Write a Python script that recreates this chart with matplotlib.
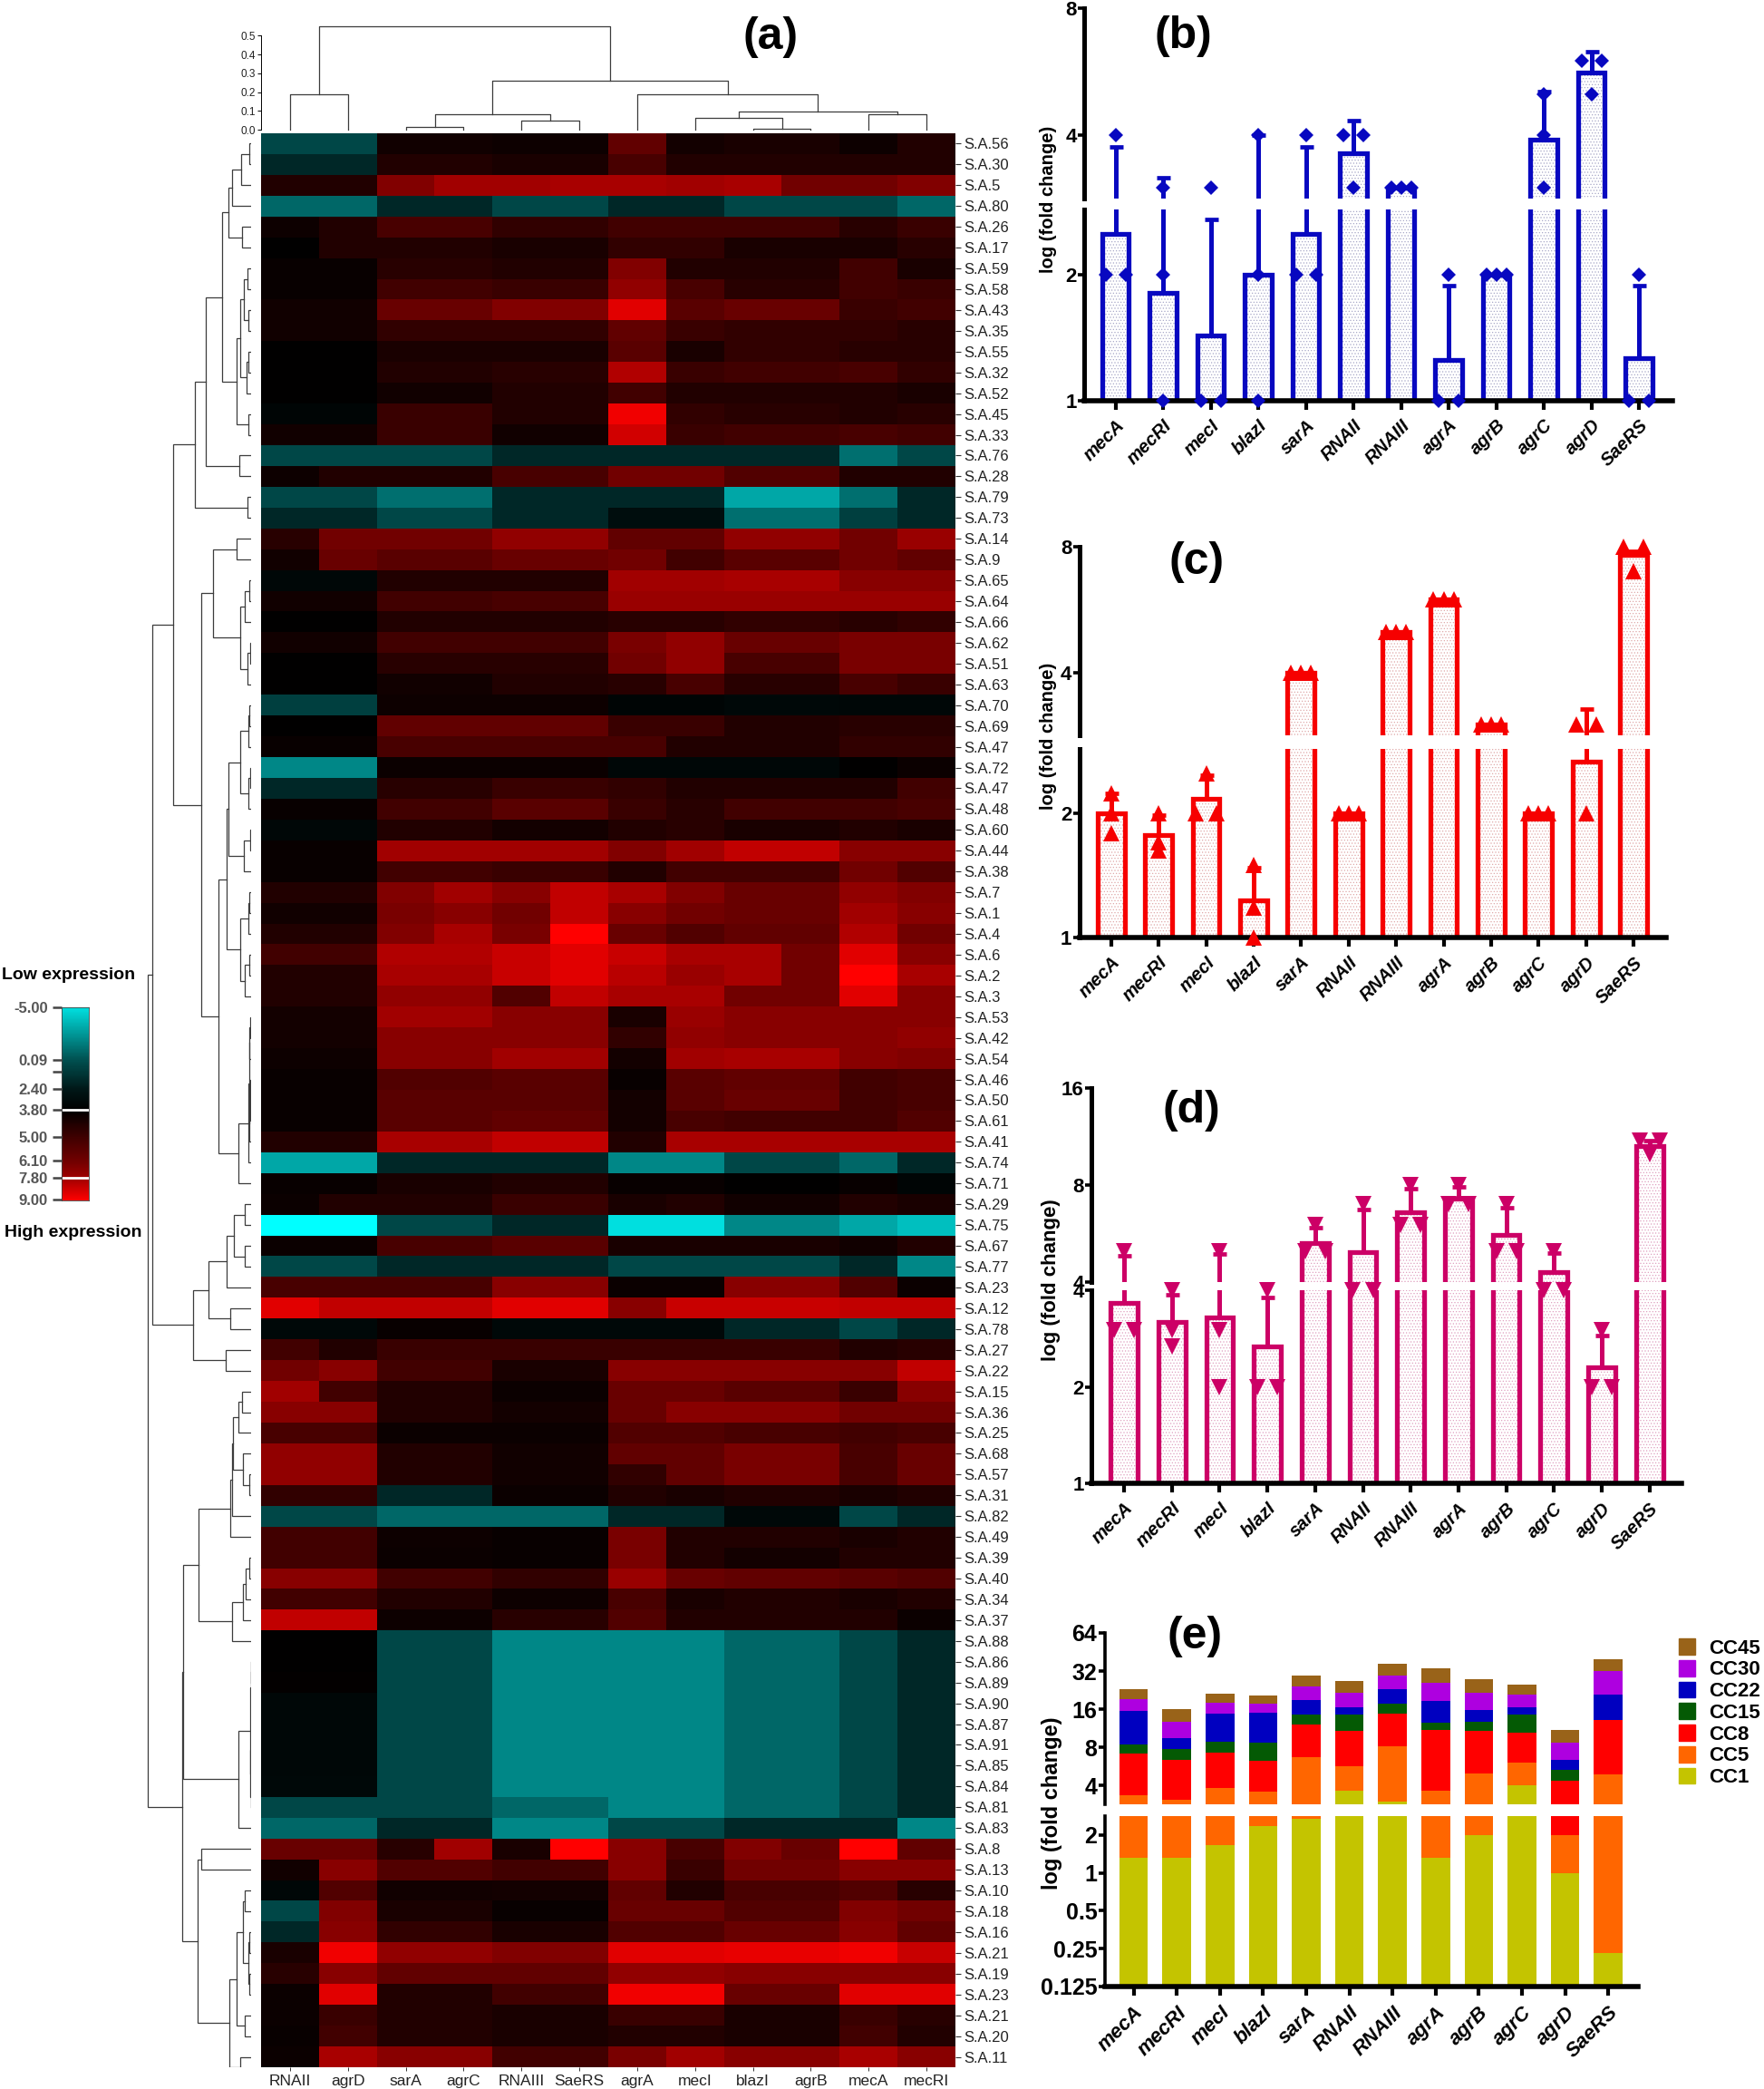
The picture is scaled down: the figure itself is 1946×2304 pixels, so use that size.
import numpy as np
import matplotlib
matplotlib.use('Agg')
import matplotlib.pyplot as plt
from matplotlib.colors import LinearSegmentedColormap
from matplotlib.patches import Patch
from matplotlib import font_manager

W, H = 1946, 2304
names = {f.name for f in font_manager.fontManager.ttflist}
NARROW = 'Liberation Sans Narrow' if 'Liberation Sans Narrow' in names else 'Liberation Sans'
plt.rcParams['font.family'] = 'Liberation Sans'
plt.rcParams['hatch.linewidth'] = 0.5

# heatmap, level -16 (cyan) .. 0 (black) .. 16 (red)
heat_cols = ['RNAII', 'agrD', 'sarA', 'agrC', 'RNAIII', 'SaeRS', 'agrA', 'mecI', 'blazI', 'agrB', 'mecA', 'mecRI']
heat_rows = ['56', '30', '5', '80', '26', '17', '59', '58', '43', '35', '55', '32', '52', '45', '33', '76', '28', '79', '73',
             '14', '9', '65', '64', '66', '62', '51', '63', '70', '69', '47', '72', '47', '48', '60', '44', '38', '7', '1',
             '4', '6', '2', '3', '53', '42', '54', '46', '50', '61', '41', '74', '71', '29', '75', '67', '77', '23', '12',
             '78', '27', '22', '15', '36', '25', '68', '57', '31', '82', '49', '39', '40', '34', '37', '88', '86', '89',
             '90', '87', '91', '85', '84', '81', '83', '8', '13', '10', '18', '16', '21', '19', '23', '21', '20', '11']
heat_vals = [
    [-4.5, -4.5, 1, 1, .8, .8, 6, 1.2, 1.5, 1.5, .8, 2],
    [-2.5, -2.5, 2, 2, 1.5, 1.5, 4.5, 2, 2, 2, 2, 2],
    [2, 2, 8, 10, 10, 10.5, 10.5, 10, 10.5, 7, 7, 8],
    [-6.5, -6.5, -2.5, -2.5, -4.5, -4.5, -2.5, -2.5, -4.5, -4.5, -4.5, -6.5],
    [.8, 2, 4.5, 4.5, 3, 3, 4, 4, 4, 4, 2.5, 3.5],
    [0, 2, 2, 2, 1.5, 1.5, 3, 3, 1.5, 1.5, 1.5, 2.5],
    [.5, .5, 2.5, 2.5, 2, 2, 8, 2, 2, 2, 4, 1.5],
    [.5, .5, 4, 4, 3.5, 3.5, 9, 4.5, 2.5, 2.5, 4, 3.5],
    [1, 1, 6.5, 6.5, 8, 8, 14, 5.5, 6.5, 6.5, 3.5, 4],
    [1, 1, 3, 3, 3, 3, 6, 3.5, 3, 3, 3, 2.5],
    [0, 0, 1.5, 1.5, 1.5, 1.5, 5.5, 1.5, 3, 3, 2.5, 2.5],
    [0, 0, 2, 2, 2.5, 2.5, 11, 3.5, 4, 4, 4.5, 3],
    [0, 0, 1, 1, 2, 2, 4, 2, 2, 2, 2, 1.5],
    [-.3, -.3, 3.5, 3.5, 2, 2, 15, 3, 2.5, 2.5, 2, 2.5],
    [1, 1, 3.5, 3.5, 1, 1, 13, 3.5, 4, 4, 4.5, 4],
    [-4.5, -4.5, -4.5, -4.5, -2.5, -2.5, -2.5, -2.5, -2.5, -2.5, -7, -4.5],
    [.8, 2, 2, 2, 4.5, 4.5, 7, 7, 5, 5, 2, 2],
    [-4.5, -4.5, -7, -7, -2.5, -2.5, -2.5, -2.5, -10.5, -10.5, -7, -2.5],
    [-2.5, -2.5, -4.5, -4.5, -2.5, -2.5, -.8, -.8, -7, -7, -4, -2.5],
    [2.5, 7, 7, 7, 9, 9, 6, 6, 9, 9, 7, 9.5],
    [1, 6.5, 5.5, 5.5, 6.5, 6.5, 7, 4, 5.5, 5.5, 7, 6],
    [-.5, -.5, 2, 2, 2, 2, 10, 10, 10.5, 10.5, 8.5, 8.5],
    [1, 1, 4, 4, 4.5, 4.5, 9.5, 9.5, 9.5, 9.5, 9.5, 9.5],
    [0, 0, 2, 2, 2, 2, 2.5, 2.5, 3, 3, 2.5, 3],
    [1, 1, 4, 4, 4, 4, 7.5, 9, 6.5, 6.5, 7.5, 7.5],
    [0, 0, 2.5, 2.5, 2.5, 2.5, 7, 9, 4.5, 4.5, 7.5, 7.5],
    [0, 0, 1, 1, 2, 2, 2.5, 4.5, 2.5, 2.5, 4.5, 3.5],
    [-4, -4, .8, .8, .8, .8, -.3, -.3, -.6, -.6, -.5, -.5],
    [0, 0, 6, 6, 6, 6, 3.5, 3.5, 2, 2, 2.5, 2.5],
    [.5, .5, 4.5, 4.5, 4.5, 4.5, 4.5, 2, 2, 2, 3, 3],
    [-8.5, -8.5, .7, .7, .7, .7, -.5, -.5, -.5, -.5, 0, .7],
    [-2.5, -2.5, 2.5, 2.5, 3.5, 3.5, 3, 2, 2, 2, 2, 4],
    [.6, .6, 4, 4, 5.5, 5.5, 3.5, 2.5, 4, 4, 4, 4.5],
    [-.5, -.5, 2, 2, 1.2, 1.2, 2, 2.5, 1.5, 1.5, 2, 1.5],
    [.6, .6, 10, 10, 10, 10, 8, 10, 12, 12, 8.5, 8.5],
    [.6, .6, 4, 4, 3.5, 3.5, 2, 4, 4, 4, 7, 5],
    [2, 2, 8, 10, 8.5, 12, 10.5, 8, 6.5, 6.5, 9, 8],
    [1, 1, 7.5, 8.5, 7, 12, 8.5, 7, 6.5, 6.5, 10, 8.5],
    [2, 2, 8, 10.5, 7.5, 16, 6.5, 5, 6, 6, 11, 7],
    [4, 4, 11, 11, 12.5, 14, 12.5, 10.5, 10.5, 7, 14, 8.5],
    [2, 2, 10.5, 10.5, 12.5, 14, 11.5, 9.5, 10.5, 7, 16, 10.5],
    [2, 2, 9, 9, 5, 12, 10.5, 10.5, 7, 7, 14, 8.5],
    [1.2, 1.2, 10, 10, 8.5, 8.5, 1.5, 9.5, 8.5, 8.5, 8.5, 8.5],
    [1.2, 1.2, 8.5, 8.5, 8.5, 8.5, 3, 9, 8.5, 8.5, 8.5, 9],
    [.8, .8, 8.5, 8.5, 10, 10, 1.2, 10, 10.5, 10.5, 8.5, 8],
    [.6, .6, 5, 5, 5.5, 5.5, .5, 5.5, 6, 6, 4, 4.5],
    [.6, .6, 5.5, 5.5, 5.5, 5.5, 1.2, 5.5, 6.5, 6.5, 4, 4.5],
    [.6, .6, 5.5, 5.5, 6, 6, 1.2, 4.5, 4, 4, 4, 5],
    [2, 2, 10.5, 10.5, 12, 12, 2, 10.5, 10.5, 10.5, 10.5, 10.5],
    [-10.5, -10.5, -2.5, -2.5, -2.5, -2.5, -8.5, -8.5, -4.5, -4.5, -6.5, -2.5],
    [.5, .5, 1.5, 1.5, 2, 2, .5, .5, .1, .1, .5, -.3],
    [.7, 2, 2, 2, 3.5, 3.5, 1.5, 2, 1, 1, 2, 1.5],
    [-16, -16, -4.5, -4.5, -2.5, -2.5, -14, -14, -8.5, -8.5, -10.5, -12],
    [.7, .7, 4.5, 4.5, 5.5, 5.5, 1.5, 1.5, 1.5, 1.5, 1, 2],
    [-4.5, -4.5, -2.5, -2.5, -2.5, -2.5, -4.5, -4.5, -4.5, -4.5, -2.5, -8.5],
    [4.5, 4.5, 4.5, 4.5, 8.5, 8.5, .7, .7, 8.5, 8.5, 5, .7],
    [14, 12, 12, 12, 14, 14, 8.5, 12.5, 12.5, 12.5, 12, 12],
    [-.6, -.6, .5, .5, -.6, -.6, -.6, -.6, -2.5, -2.5, -4.5, -2.5],
    [4, 2, 3.5, 3.5, 3.5, 3.5, 3.5, 3.5, 3.5, 3.5, 2, 2.5],
    [7, 8.5, 4, 4, 1.5, 1.5, 8.5, 8.5, 8.5, 8.5, 8.5, 12],
    [10, 4, 2, 2, .7, .7, 6.5, 6.5, 5.5, 5.5, 3.5, 8.5],
    [8.5, 8.5, 2, 2, 1.2, 1.2, 6.5, 8.5, 8.5, 8.5, 7, 7],
    [4.5, 4.5, .7, .7, .7, .7, 5, 5, 4.5, 4.5, 4, 4.5],
    [9, 9, 2, 2, 1, 1, 6, 6, 7.5, 7.5, 4.5, 6.5],
    [9, 9, 2, 2, 1, 1, 3, 6, 7.5, 7.5, 4.5, 6.5],
    [3, 3, -2.5, -2.5, .7, .7, 2, 1.5, 2, 2, 1.5, 2],
    [-4.5, -4.5, -6.5, -6.5, -6.5, -6.5, -2.5, -2.5, -.6, -.6, -4.5, -2.5],
    [4, 4, .8, .8, .5, .5, 7.5, 2, 2, 2, 1.5, 2],
    [4, 4, .7, .7, .6, .6, 7.5, 2, 1.2, 1.2, 2, 2],
    [8.5, 8.5, 4, 4, 3, 3, 9.5, 6.5, 6, 6, 5.5, 5],
    [4, 4, 2, 2, .8, .8, 4.5, 1.5, 2, 2, 1.5, 2],
    [12, 12, .8, .8, 2.5, 2.5, 5, 2, 2, 2, 2, .7],
    [0, 0, -4.5, -4.5, -8.5, -8.5, -8.5, -8.5, -6.5, -6.5, -4.5, -2.5],
    [0, 0, -4.5, -4.5, -8.5, -8.5, -8.5, -8.5, -6.5, -6.5, -4.5, -2.5],
    [.2, .2, -4.5, -4.5, -8.5, -8.5, -8.5, -8.5, -6.5, -6.5, -4.5, -2.5],
    [-.5, -.5, -4.5, -4.5, -8.5, -8.5, -8.5, -8.5, -6.5, -6.5, -4.5, -2.5],
    [-.5, -.5, -4.5, -4.5, -8.5, -8.5, -8.5, -8.5, -6.5, -6.5, -4.5, -2.5],
    [-.4, -.4, -4.5, -4.5, -8.5, -8.5, -8.5, -8.5, -6.5, -6.5, -4.5, -2.5],
    [-.4, -.4, -4.5, -4.5, -8.5, -8.5, -8.5, -8.5, -6.5, -6.5, -4.5, -2.5],
    [-.6, -.6, -4.5, -4.5, -8.5, -8.5, -8.5, -8.5, -6.5, -6.5, -4.5, -2.5],
    [-4.5, -4.5, -4.5, -4.5, -6.5, -6.5, -8.5, -8.5, -6.5, -6.5, -4.5, -2.5],
    [-6.5, -6.5, -2.5, -2.5, -8.5, -8.5, -4.5, -4.5, -2.5, -2.5, -2.5, -8.5],
    [6.5, 6.5, 2.5, 10, 1.5, 16, 8.5, 4.5, 8, 6.5, 16, 6],
    [1, 8.5, 5, 5, 4, 4, 8.5, 3.5, 7, 7, 8.5, 8.5],
    [-.5, 5, 1, 1, 1.2, 1.2, 6, 2, 4.5, 4.5, 5, 2.5],
    [-4.5, 8, 1.5, 1.5, .6, .6, 6.5, 6.5, 5, 5, 8, 7],
    [-2.5, 8.5, 3, 3, 1.5, 1.5, 5, 5, 6.5, 6.5, 8.5, 6],
    [1.5, 15, 9, 9, 8, 8, 14, 14, 14.5, 14.5, 15, 12.5],
    [2.5, 8.5, 6, 6, 6, 6, 9, 9, 8.5, 8.5, 8.5, 8.5],
    [.7, 14, 2, 2, 4, 4, 15, 15, 6.5, 6.5, 14, 14],
    [.7, 3.5, 2, 2, 1.5, 1.5, 3.5, 3.5, 1.5, 1.5, 3.5, 2.5],
    [.6, 4, 2, 2, 1.5, 1.5, 2, 2, 1.5, 1.5, 4, 2],
    [.7, 10.5, 8.5, 8.5, 4, 4, 7.5, 10, 8.5, 8.5, 10.5, 8.5],
]

# dendrograms as [height, child, child], 0 is a leaf
L = 0
row_tree = [114,
    [109,
        [86,
            [62,
                [50,
                    [32,
                        [25, [21, [11, [2, L, L], L], L], [10, L, L]],
                        [16, [12, [8, [4, L, L], [3, L, L]], [5, [3, L, L], L]], [3, L, L]]],
                    [13, L, L]],
                [4, L, L]],
            [55,
                [42, [16, L, L], [12, [7, [2, L, L], L], [4, [1, L, L], L]]],
                [36,
                    [27,
                        [25, [12, [3, [2, L, L], L], [3, [1, L, L], L]], [8, [1, L, L], L]],
                        [12, [3, [2, L, L], L], [7, [2, L, L], L]]],
                    [14, [3, [2, [2, [1, L, L], L], [2, [1, [1, L, L], L], L]], L], L]]]],
        [64, [47, [27, [19, [7, L, L], [7, L, L]], L], [23, L, L]], [28, L, L]]],
    [76,
        [75,
            [58,
                [23, [21, [20, [14, [10, L, L], L], [9, L, [2, L, L]]], L], L],
                [21, [9, [6, [2, L, L], L], L], L]],
            [14, [1, [.5, [.3, L, L], L], [.7, [.5, [.3, L, L], L], [.3, L, L]]], L]],
        [59,
            [55, L, L],
            [24, [16, [9, [7, L, L], [3, [2, L, L], [2, L, L]]], [7, L, L]], [12, L, L]]]]]
col_tree = [.55,
    [.19, L, L],
    [.26,
        [.083, [.015, L, L], [.05, L, L]],
        [.187, L, [.098, [.065, L, [.007, L, L]], [.08, L, L]]]]]

# colour key
cbar_labels = ['-5.00', '0.09', '', '2.40', '3.80', '5.00', '6.10', '7.80', '9.00']
cbar_levels = [-14, -5, -3.6, -1.5, 0, 4, 7, 10, 16]

genes = ['mecA', 'mecRI', 'mecI', 'blazI', 'sarA', 'RNAII', 'RNAIII', 'agrA', 'agrB', 'agrC', 'agrD', 'SaeRS']

# panel b
b_tops = [2.51, 1.81, 1.43, 2.0, 2.51, 3.63, 3.0, 1.25, 2.0, 3.9, 5.63, 1.26]
b_caps = [3.76, 3.17, 2.72, 4.0, 3.76, 4.33, None, 1.88, None, 5.08, 6.32, 1.88]
b_pts = [[4, 2, 2], [3, 2, 1], [3, 1, 1], [4, 2, 1], [4, 2, 2], [4, 4, 3], [3, 3, 3], [2, 1, 1], [2, 2, 2], [5, 4, 3], [6, 6, 5], [2, 1, 1]]

# panel c
c_tops = [2.0, 1.77, 2.17, 1.23, 4.0, 2.0, 5.0, 6.0, 3.0, 2.0, 2.68, 7.64]
c_caps = [2.24, 1.98, 2.48, 1.48, None, None, None, None, None, None, 3.27, 7.8]
c_pts = [[2.24, 2, 1.79], [2, 1.7, 1.63], [2.5, 2, 2], [1.5, 1.18, 1], [4, 4, 4], [2, 2, 2], [5, 5, 5], [6, 6, 6], [3, 3, 3], [2, 2, 2], [3, 3, 2], [8, 8, 7]]

# panel d
d_tops = [3.65, 3.19, 3.29, 2.67, 5.3, 4.96, 6.6, 7.27, 5.6, 4.3, 2.3, 10.56]
d_caps = [4.84, 3.88, 4.88, 3.79, 5.9, 6.72, 7.82, 7.9, 6.82, 4.93, 2.89, 11.0]
d_pts = [[5, 3, 3], [4, 3, 2.68], [5, 3, 2], [4, 2, 2], [6, 5, 5], [7, 4, 4], [8, 6, 6], [8, 7, 7], [7, 5, 5], [5, 4, 4], [3, 2, 2], [11, 11, 10]]

# panel e, upper edge of each stacked segment
cc1 = [1.33, 1.33, 1.66, 2.34, 2.71, 3.65, 2.99, 1.33, 2.0, 4.0, 1.0, 0.23]
cc5 = [3.32, 3.07, 3.82, 3.56, 6.66, 5.67, 8.09, 3.65, 5.0, 6.01, 2.0, 4.89]
cc8 = [7.09, 6.33, 7.21, 6.25, 12.08, 10.71, 14.77, 10.96, 10.71, 10.41, 4.33, 13.09]
cc15 = [8.43, 7.73, 8.87, 8.62, 14.43, 14.43, 17.63, 12.44, 12.72, 14.43, 5.33, 13.09]
cc22 = [15.38, 9.45, 14.68, 15.02, 18.78, 16.46, 22.95, 18.57, 15.73, 16.46, 6.33, 20.94]
cc30 = [19.11, 12.65, 17.94, 17.74, 24.3, 21.43, 29.7, 25.74, 21.43, 20.94, 8.72, 32.0]
cc45 = [22.95, 15.92, 21.31, 20.35, 29.7, 26.65, 36.3, 33.5, 27.42, 25.16, 10.96, 39.8]
cc_names = ['CC1', 'CC5', 'CC8', 'CC15', 'CC22', 'CC30', 'CC45']
cc_colors = ['#c4c400', '#ff6600', '#ff0000', '#045a04', '#0000c0', '#ae00e0', '#996319']


def px_axes(fig, left, top, right, bottom):
    return fig.add_axes([left / W, 1 - bottom / H, (right - left) / W, (bottom - top) / H])


def fig_text(fig, x, y, s, **kw):
    kw.setdefault('ha', 'center')
    kw.setdefault('va', 'center')
    fig.text(x / W, 1 - y / H, s, **kw)


def walk_tree(node, segs, counter):
    # returns leaf position and height of the node
    if node == 0:
        counter[0] += 1
        return counter[0] - 1, 0
    a, ha = walk_tree(node[1], segs, counter)
    b, hb = walk_tree(node[2], segs, counter)
    segs.append(([a, a, b, b], [ha, node[0], node[0], hb]))
    return (a + b) / 2, node[0]


def style_axis(ax, ticks, lim, size=16, spine=3.6):
    for s in ('top', 'right', 'bottom'):
        ax.spines[s].set_visible(False)
    ax.spines['left'].set_linewidth(spine)
    ax.set_yticks(ticks)
    ax.set_yticklabels([('%g' % t) for t in ticks], fontsize=size, fontweight='bold')
    ax.minorticks_off()
    ax.set_ylim(lim)
    ax.tick_params(axis='y', length=5, width=2.6, pad=1)


def finish_axes(low, up, size=14.5):
    up.set_xticks([])
    low.spines['bottom'].set_visible(True)
    low.spines['bottom'].set_linewidth(4)
    low.set_xticks(np.arange(len(genes)))
    low.set_xticklabels(genes, rotation=45, ha='right', rotation_mode='anchor', fontsize=size, fontweight='bold', fontstyle='italic')
    low.tick_params(axis='x', length=7, width=3, pad=6)


def broken(fig, box, tops, caps, pts, color, dots, marker, ms, lims, ticks, c0, sp):
    x0, x1, y0, y1, y2, y3 = box
    low = px_axes(fig, x0, y1, x1, y0)
    up = px_axes(fig, x0, y3, x1, y2)
    xs = np.arange(len(genes))
    for ax, lim, tk in ((low, lims[0], ticks[0]), (up, lims[1], ticks[1])):
        ax.patch.set_visible(False)
        ax.set_yscale('log', base=2)
        ax.set_xlim((x0 - c0) / sp, (x1 - c0) / sp)
        ax.bar(xs, np.array(tops) - 1, 0.6, bottom=1, facecolor='white', edgecolor=dots, hatch='.....', linewidth=0, zorder=1)
        ax.bar(xs, np.array(tops) - 1, 0.565, bottom=1, fill=False, edgecolor=color, linewidth=3.8, zorder=2)
        for x, t, c in zip(xs, tops, caps):
            if c is not None:
                ax.errorbar(x, t, yerr=[[0], [c - t]], color=color, elinewidth=3.6, capsize=5.4, capthick=3.4, zorder=3)
        for x, vals in zip(xs, pts):
            vals = np.array(vals, dtype=float)
            for v in set(vals):
                n = int((vals == v).sum())
                offs = (np.arange(n) - (n - 1) / 2) * 0.21 * (1 if n == 3 else 2 if n == 2 else 0)
                if lim[0] < v <= lim[1] or v == lim[0] == 1:
                    ax.plot(x + offs, [v] * n, marker, color=color, ms=ms, mew=0, clip_on=False, zorder=4)
        style_axis(ax, tk, lim)
    finish_axes(low, up)
    return low, up


fig = plt.figure(figsize=(W / 100, H / 100), dpi=100)
cmap = LinearSegmentedColormap.from_list('cbr', ['#00ffff', '#000000', '#ff0000'], N=256)

# (a) heatmap
ax = px_axes(fig, 288, 147, 1054, 2280)
ax.imshow(np.array(heat_vals), cmap=cmap, vmin=-16, vmax=16, aspect='auto', interpolation='nearest')
ax.set_xticks(np.arange(len(heat_cols)))
ax.set_xticklabels(heat_cols, fontsize=12.5, family=NARROW, color='#222222')
ax.yaxis.tick_right()
ax.set_yticks(np.arange(len(heat_rows)))
ax.set_yticklabels(['S.A.' + r for r in heat_rows], fontsize=12, family=NARROW, color='#222222')
ax.tick_params(axis='y', length=4, width=0.8, pad=3, color='#333333')
ax.tick_params(axis='x', length=3, width=0.7, pad=3, color='#333333')
for s in ax.spines.values():
    s.set_visible(False)

# row dendrogram
ax = px_axes(fig, 150, 147, 277, 2280)
segs = []
walk_tree(row_tree, segs, [0])
for ys, xs in segs:
    ax.plot(xs, ys, color='#3c3c3c', lw=0.9, solid_joinstyle='miter')
ax.set_ylim(len(heat_rows) - 0.5, -0.5)
ax.set_xlim(127, 0)
ax.axis('off')

# column dendrogram
ax = px_axes(fig, 288, 29, 1054, 143)
segs = []
walk_tree(col_tree, segs, [0])
for xs, ys in segs:
    ax.plot(xs, ys, color='#3c3c3c', lw=0.9, clip_on=False)
ax.set_xlim(-0.5, len(heat_cols) - 0.5)
ax.set_ylim(0, 0.55)
for s in ('top', 'right', 'bottom'):
    ax.spines[s].set_visible(False)
ax.spines['left'].set_bounds(0, 0.5)
ax.spines['left'].set_linewidth(0.7)
ax.set_xticks([])
ax.set_yticks([0, .1, .2, .3, .4, .5])
ax.set_yticklabels(['0.0', '0.1', '0.2', '0.3', '0.4', '0.5'], fontsize=8.5, family=NARROW, color='#222222')
ax.tick_params(axis='y', length=3, width=0.7, pad=1.5)
ax.patch.set_visible(False)

fig_text(fig, 850, 41, '(a)', fontsize=36, fontweight='bold')

# colour key
ax = px_axes(fig, 68, 1111, 98, 1324)
cbar_px = [1111, 1169, 1182, 1201, 1224, 1254, 1280, 1299, 1324]
rows_px = np.arange(1111, 1324)
ax.imshow(np.interp(rows_px, cbar_px, cbar_levels)[:, None], cmap=cmap, vmin=-16, vmax=16, aspect='auto',
          extent=(0, 1, 1324, 1111), interpolation='bilinear')
ax.set_xticks([])
ax.set_yticks(cbar_px[:-1] + [1323])
ax.set_yticklabels(cbar_labels, fontsize=12, fontweight='bold', family=NARROW, color='#555555')
ax.tick_params(axis='y', length=7, width=1.8, pad=4, color='#444444')
ax.hlines([1224, 1299], 0, 1, color='white', lw=2)
for s in ax.spines.values():
    s.set_linewidth(0.6)
    s.set_color('#444444')
fig_text(fig, 76, 1075, 'Low expression', fontsize=14, fontweight='bold')
fig_text(fig, 81, 1360, 'High expression', fontsize=14, fontweight='bold')

# (b) - (d) broken log axes
broken(fig, (1196, 1845, 441.5, 231, 219, 9), b_tops, b_caps, b_pts, '#0808c0', '#a8a8c8', 'D', 8.5,
       ((1, 2.87), (2.83, 8)), ([1, 2], [4, 8]), 1230.6, 52.5)
fig_text(fig, 1305, 40, '(b)', fontsize=36, fontweight='bold')
fig_text(fig, 1157, 220, 'log (fold change)', fontsize=14.5, fontweight='bold', rotation=90)

broken(fig, (1190.7, 1838, 1034, 826, 811, 603), c_tops, c_caps, c_pts, '#f60000', '#e0a8a8', '^', 13,
       ((1, 2.87), (2.83, 8)), ([1, 2], [4, 8]), 1225.7, 52.4)
fig_text(fig, 1320, 620, '(c)', fontsize=36, fontweight='bold')
fig_text(fig, 1157, 812, 'log (fold change)', fontsize=14.5, fontweight='bold', rotation=90)

broken(fig, (1204, 1855, 1636, 1423, 1414, 1200), d_tops, d_caps, d_pts, '#cc0066', '#e0a0c0', 'v', 13,
       ((1, 4), (4, 16)), ([1, 2, 4], [4, 8, 16]), 1240, 52.7)
fig_text(fig, 1314, 1225, '(d)', fontsize=36, fontweight='bold')
fig_text(fig, 1159, 1412, 'log (fold change)', fontsize=16, fontweight='bold', rotation=90)

# (e) stacked bars
stack = [cc1, cc5, cc8, cc15, cc22, cc30, cc45]
x0, x1, c0, sp = 1218.7, 1807, 1250.6, 47.6
low = px_axes(fig, x0, 2003, x1, 2191)
up = px_axes(fig, x0, 1801, x1, 1990)
for ax, lim, ticks in ((low, (0.125, 2.83), [0.125, 0.25, 0.5, 1, 2]), (up, (2.83, 64), [4, 8, 16, 32, 64])):
    ax.patch.set_visible(False)
    ax.set_yscale('log', base=2)
    ax.set_xlim((x0 - c0) / sp, (x1 - c0) / sp)
    under = np.full(len(genes), 0.125)
    for vals, col in zip(stack, cc_colors):
        ax.bar(np.arange(len(genes)), np.array(vals) - under, 0.66, bottom=under, color=col, linewidth=0)
        under = np.array(vals)
    style_axis(ax, ticks, lim, size=18, spine=2.6)
finish_axes(low, up, size=16)
fig_text(fig, 1318, 1805, '(e)', fontsize=36, fontweight='bold')
fig_text(fig, 1161, 1989, 'log (fold change)', fontsize=17, fontweight='bold', rotation=90)
handles = [Patch(color=c, label=n) for n, c in zip(cc_names, cc_colors)][::-1]
fig.legend(handles=handles, loc='upper left', bbox_to_anchor=(1852 / W, 1 - 1807 / H), frameon=False,
           prop={'weight': 'bold', 'size': 16}, handlelength=0.8, handleheight=0.85, labelspacing=0.1, handletextpad=0.7,
           borderpad=0, borderaxespad=0)

fig.savefig('out.png', dpi=100)
